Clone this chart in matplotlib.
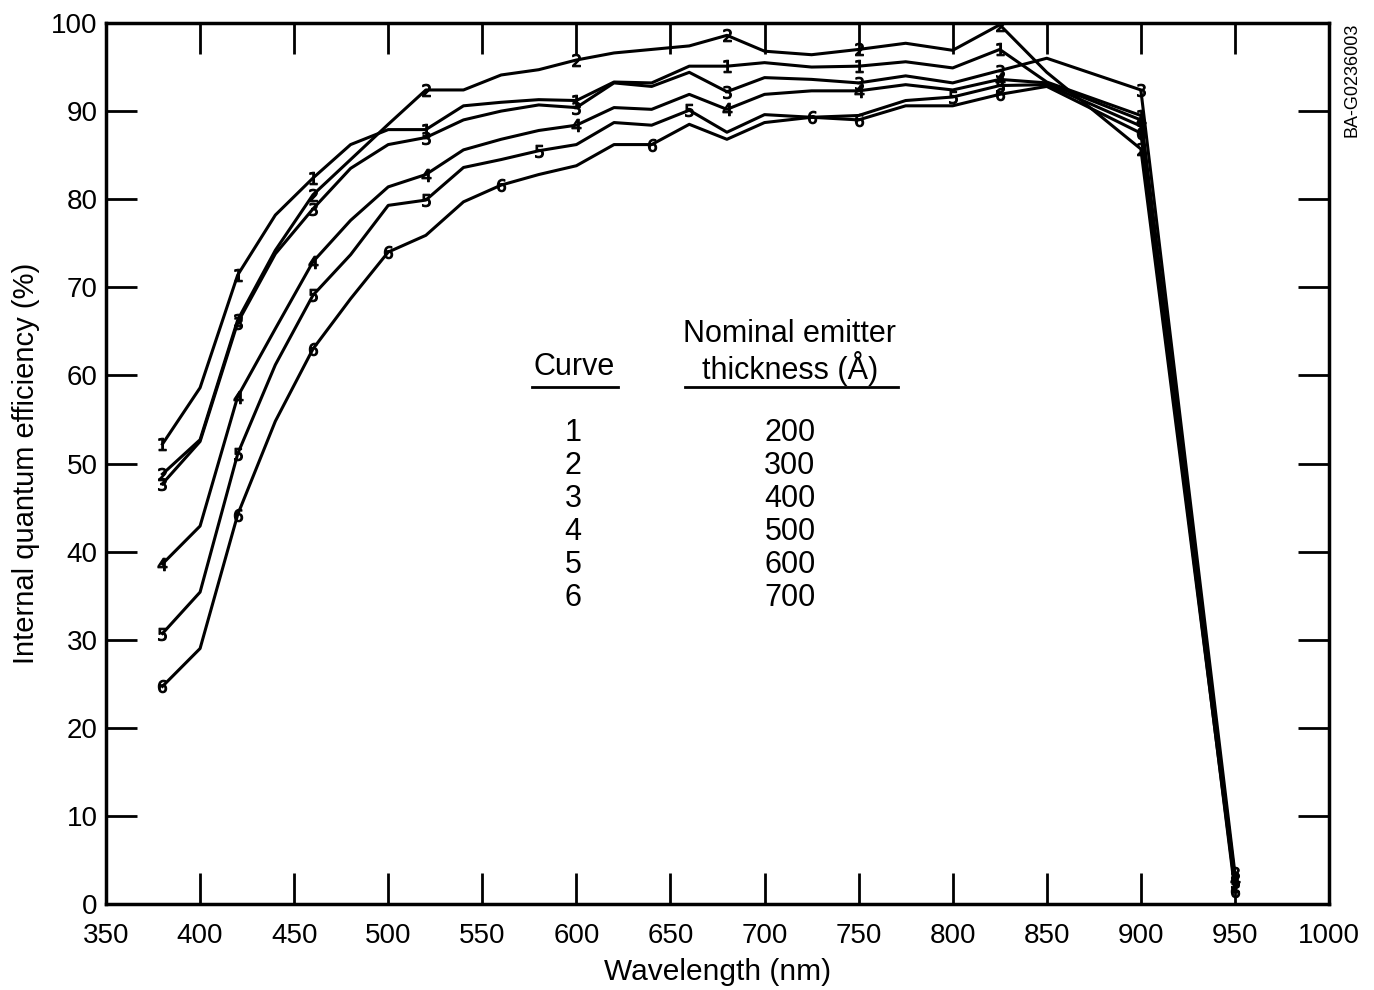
import matplotlib
matplotlib.use("Agg")
import matplotlib.pyplot as plt

plt.rcParams['font.family'] = ['Liberation Sans', 'DejaVu Sans']

# wavelength grid (nm)
wavelength = [380, 400, 420, 440, 460, 480, 500, 520, 540, 560, 580, 600, 620,
              640, 660, 680, 700, 725, 750, 775, 800, 825, 850, 900, 950]

# internal quantum efficiency (%)
curve_1 = [52.2, 58.6, 71.4, 78.2, 82.4, 86.2, 87.9, 87.9, 90.6, 91.0, 91.3, 91.2, 93.3,
           93.2, 95.1, 95.1, 95.5, 95.0, 95.1, 95.6, 94.9, 97.0, 93.3, 89.5, 3.0]
curve_2 = [48.8, 52.7, 66.3, 74.2, 80.5, 84.5, 88.5, 92.4, 92.4, 94.1, 94.7, 95.8, 96.6,
           97.0, 97.4, 98.6, 96.8, 96.4, 97.0, 97.7, 96.9, 99.8, 94.4, 85.7, 2.0]
curve_3 = [47.7, 52.5, 66.0, 73.8, 78.9, 83.5, 86.2, 87.0, 89.0, 90.0, 90.7, 90.4, 93.2,
           92.8, 94.4, 92.2, 93.8, 93.6, 93.2, 94.0, 93.2, 94.6, 96.0, 92.4, 3.5]
curve_4 = [38.6, 42.9, 57.6, 65.3, 72.9, 77.6, 81.4, 82.8, 85.6, 86.8, 87.8, 88.4, 90.4,
           90.2, 91.9, 90.2, 91.9, 92.3, 92.3, 93.0, 92.4, 93.6, 93.2, 89.0, 2.8]
curve_5 = [30.7, 35.4, 51.1, 61.2, 69.1, 73.7, 79.3, 79.9, 83.6, 84.5, 85.5, 86.2, 88.7,
           88.4, 90.1, 87.6, 89.6, 89.3, 89.5, 91.2, 91.6, 92.9, 93.0, 88.3, 2.5]
curve_6 = [24.7, 29.0, 44.2, 54.8, 63.0, 68.7, 74.0, 75.9, 79.7, 81.6, 82.8, 83.8, 86.2,
           86.2, 88.5, 86.8, 88.7, 89.3, 89.0, 90.6, 90.6, 91.9, 92.8, 87.5, 1.5]

curves = [curve_1, curve_2, curve_3, curve_4, curve_5, curve_6]
curve_ids = ["1", "2", "3", "4", "5", "6"]
thickness = ["200", "300", "400", "500", "600", "700"]

# wavelengths where a curve carries its number marker
marked_at = {
    "1": [380, 420, 460, 520, 600, 680, 750, 825, 900, 950],
    "2": [380, 420, 460, 520, 600, 680, 750, 825, 900, 950],
    "3": [380, 420, 460, 520, 600, 680, 750, 825, 900, 950],
    "4": [380, 420, 460, 520, 600, 680, 750, 825, 900, 950],
    "5": [380, 420, 460, 520, 580, 660, 800, 825, 900, 950],
    "6": [380, 420, 460, 500, 560, 640, 725, 750, 825, 900, 950],
}

fig = plt.figure(figsize=(13.74, 9.9), dpi=100)
ax = fig.add_axes([106 / 1374, 1 - 904 / 990, 1223 / 1374, 881 / 990])

for cid, values in zip(curve_ids, curves):
    idx = [wavelength.index(w) for w in marked_at[cid]]
    ax.plot(wavelength, values, color="black", linewidth=2.2,
            marker="$" + cid + "$", markersize=9, markevery=idx,
            markeredgewidth=0.8)

ax.set_xlim(350, 1000)
ax.set_ylim(0, 100)
ax.set_xticks(range(350, 1001, 50))
ax.set_yticks(range(0, 101, 10))
ax.tick_params(direction="in", length=22, width=2, labelsize=20,
               top=True, right=True)
ax.tick_params(axis="x", pad=14)
ax.tick_params(axis="y", pad=6)
for sp in ax.spines.values():
    sp.set_linewidth(2.5)

ax.set_xlabel("Wavelength (nm)", fontsize=21.5, labelpad=6)
ax.set_ylabel("Internal quantum efficiency (%)", fontsize=21, labelpad=8)

# table of curves inside the plot
fs = 22
ax.text(599, 61.0, "Curve", fontsize=fs, ha="center", va="center")
ax.text(713.5, 62.6, "Nominal emitter\nthickness (Å)", fontsize=fs,
        ha="center", va="center", linespacing=1.05)
ax.plot([576.5, 622.0], [58.7, 58.7], color="black", linewidth=2)
ax.plot([657.7, 770.8], [58.7, 58.7], color="black", linewidth=2)
for i, (cid, th) in enumerate(zip(curve_ids, thickness)):
    yy = 53.5 - i * 3.75
    ax.text(598.2, yy, cid, fontsize=fs, ha="center", va="center")
    ax.text(713.5, yy, th, fontsize=fs, ha="center", va="center")

fig.text(1352 / 1374, 1 - 80 / 990, "BA-G0236003", rotation=90, fontsize=13,
         ha="center", va="center")

fig.savefig("out.png", dpi=100)
